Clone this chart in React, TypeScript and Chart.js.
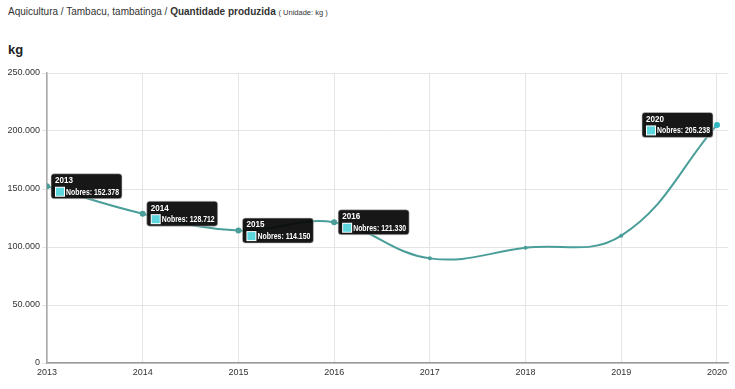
import React, { useEffect, useRef } from "react";
import { Chart, registerables } from "chart.js";

Chart.register(...registerables);

const years = [2013, 2014, 2015, 2016, 2017, 2018, 2019, 2020];
const values = [152378, 128712, 114150, 121330, 90200, 99300, 109800, 205238];
const tooltipYears = [2013, 2014, 2015, 2016, 2020];
const yTicks = [0, 50000, 100000, 150000, 200000, 250000];
const seriesName = "Nobres";

const LINE = "#4a9e9a";
const SWATCH = "#5ed6de";
const TIPFONT = "Arial, 'Liberation Sans', sans-serif";

function fmt(v: number): string {
  const s = Math.round(v).toString();
  return s.replace(/\B(?=(\d{3})+(?!\d))/g, ".");
}

const tooltipPlugin = {
  id: "multiTips",
  afterDatasetsDraw(chart: any) {
    const ctx = chart.ctx;
    const meta = chart.getDatasetMeta(0);
    const area = chart.chartArea;
    const mid = (area.left + area.right) / 2;
    tooltipYears.forEach((yr) => {
      const i = years.indexOf(yr);
      const pt = meta.data[i];
      if (!pt) return;
      const title = String(yr);
      const body = seriesName + ": " + fmt(values[i]);
      ctx.save();
      const w = 71;
      const h = 25;
      const x = pt.x < mid ? pt.x + 4 : pt.x - 4 - w;
      const y = pt.y - h / 2;
      ctx.beginPath();
      const r = 3;
      ctx.moveTo(x + r, y);
      ctx.lineTo(x + w - r, y);
      ctx.quadraticCurveTo(x + w, y, x + w, y + r);
      ctx.lineTo(x + w, y + h - r);
      ctx.quadraticCurveTo(x + w, y + h, x + w - r, y + h);
      ctx.lineTo(x + r, y + h);
      ctx.quadraticCurveTo(x, y + h, x, y + h - r);
      ctx.lineTo(x, y + r);
      ctx.quadraticCurveTo(x, y, x + r, y);
      ctx.closePath();
      ctx.fillStyle = "rgba(8,8,8,0.94)";
      ctx.fill();
      ctx.strokeStyle = "rgba(200,200,200,0.6)";
      ctx.lineWidth = 1;
      ctx.stroke();
      ctx.fillStyle = "#ffffff";
      ctx.textBaseline = "middle";
      ctx.textAlign = "left";
      ctx.font = "bold 8.5px " + TIPFONT;
      ctx.fillText(title, x + 4, y + 7, 18);
      ctx.fillStyle = "#ffffff";
      ctx.fillRect(x + 4, y + 13, 10, 10);
      ctx.fillStyle = SWATCH;
      ctx.fillRect(x + 5, y + 14, 8, 8);
      ctx.fillStyle = "#ffffff";
      ctx.fillText(body, x + 15, y + 18.5, w - 18);
      ctx.restore();
    });
  },
};

export default function App() {
  const ref = useRef<HTMLCanvasElement | null>(null);
  useEffect(() => {
    if (!ref.current) return;
    const chart = new Chart(ref.current, {
      type: "line",
      data: {
        datasets: [
          {
            label: seriesName,
            data: years.map((y, i) => ({ x: y, y: values[i] })),
            borderColor: LINE,
            backgroundColor: LINE,
            borderWidth: 2,
            tension: 0.4,
            pointRadius: years.map((y) => (tooltipYears.includes(y) ? 3 : 2)),
            pointBackgroundColor: years.map((y) => (y === 2020 ? "#2fb8c4" : LINE)),
            pointBorderWidth: 0,
            fill: false,
          },
        ],
      },
      options: {
        responsive: false,
        animation: false,
        devicePixelRatio: 1,
        layout: { padding: { left: 0, top: 13, right: 7, bottom: 0 } },
        plugins: {
          legend: { display: false },
          tooltip: { enabled: false },
          title: { display: false },
        },
        scales: {
          x: {
            type: "linear",
            min: 2013,
            max: 2020.115,
            afterBuildTicks: (s: any) => {
              s.ticks = years.map((v) => ({ value: v }));
            },
            afterFit: (s: any) => {
              s.height = 26;
            },
            ticks: {
              stepSize: 1,
              includeBounds: false,
              maxRotation: 0,
              autoSkip: false,
              padding: 4,
              color: "#333",
              font: { size: 9, family: "Arial, 'Liberation Sans', sans-serif" },
              callback: (v: any) => String(v),
            },
            grid: { color: "#e4e4e4", tickLength: 0, drawTicks: false },
            border: { color: "#999", width: 1.5 },
          },
          y: {
            min: 0,
            max: 250000,
            afterBuildTicks: (s: any) => {
              s.ticks = yTicks.map((v) => ({ value: v }));
            },
            afterFit: (s: any) => {
              s.width = 47;
            },
            ticks: {
              stepSize: 50000,
              padding: 2,
              color: "#333",
              font: { size: 9, family: "Arial, 'Liberation Sans', sans-serif" },
              callback: (v: any) => fmt(Number(v)),
            },
            grid: { color: "#e4e4e4", tickLength: 5 },
            border: { color: "#aaa", width: 1.5 },
          },
        },
      },
      plugins: [tooltipPlugin],
    });
    return () => chart.destroy();
  }, []);

  return (
    <div>
      <div
        style={{
          position: "absolute",
          left: 8,
          top: 6,
          fontFamily: "Arial, 'Liberation Sans', sans-serif",
          fontSize: 10,
          color: "#333",
          whiteSpace: "nowrap",
        }}
      >
        Aquicultura / Tambacu, tambatinga / <b>Quantidade produzida</b>{" "}
        <span style={{ fontSize: 7.5 }}>( Unidade: kg )</span>
      </div>
      <div
        style={{
          position: "absolute",
          left: 8,
          top: 42,
          fontFamily: "Arial, 'Liberation Sans', sans-serif",
          fontSize: 13,
          fontWeight: "bold",
          color: "#222",
        }}
      >
        kg
      </div>
      <canvas
        ref={ref}
        width={735}
        height={329}
        style={{ position: "absolute", left: 0, top: 60, width: 735, height: 329, display: "block" }}
      />
    </div>
  );
}
